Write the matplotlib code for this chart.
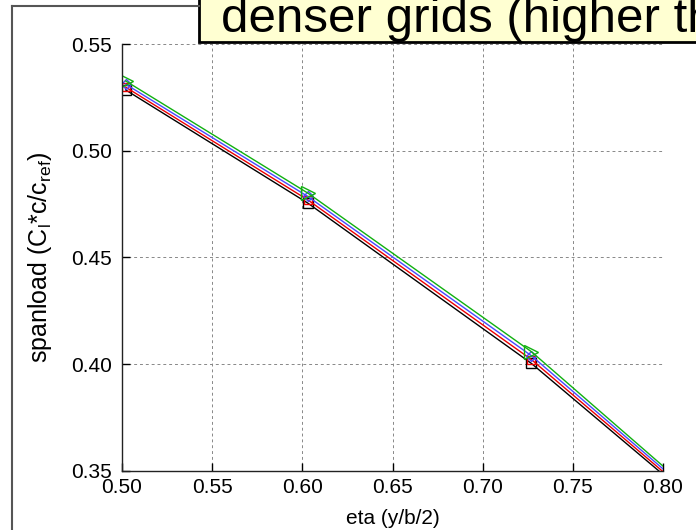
import matplotlib
matplotlib.use("Agg")
import matplotlib.pyplot as plt
from matplotlib.patches import Rectangle
from matplotlib.lines import Line2D

plt.rcParams['font.family'] = ['Liberation Sans', 'DejaVu Sans']
plt.rcParams['mathtext.fontset'] = 'custom'
plt.rcParams['mathtext.rm'] = 'Liberation Sans'
plt.rcParams['mathtext.it'] = 'Liberation Sans'

# ---- data ----
eta = [0.502, 0.603, 0.727, 0.80]
black_vals = [0.5285, 0.4755, 0.4004, 0.3484]
red_vals = [0.5298, 0.4770, 0.4022, 0.3497]
blue_vals = [0.5312, 0.4786, 0.4040, 0.3510]
green_vals = [0.5327, 0.4802, 0.4059, 0.3523]
xticks = [0.50, 0.55, 0.60, 0.65, 0.70, 0.75, 0.80]
yticks = [0.35, 0.40, 0.45, 0.50, 0.55]
xlabel = "eta (y/b/2)"
ylabel = r"spanload (C$_{\rm l}$*c/c$_{\rm ref}$)"
banner = "denser grids (higher th"

W, H = 696, 530
fig = plt.figure(figsize=(W / 100, H / 100), dpi=100)

# outer slide frame
fig.add_artist(Line2D([12 / W, 12 / W], [0, 1 - 6 / H], color='#555555', lw=1.5,
                      transform=fig.transFigure))
fig.add_artist(Line2D([12 / W, 199 / W], [1 - 6 / H, 1 - 6 / H], color='#555555', lw=1.5,
                      transform=fig.transFigure))

L, R, T, B = 122, 663, 44, 471
ax = fig.add_axes([L / W, 1 - B / H, (R - L) / W, (B - T) / H])

series = [
    (black_vals, 'black', 's', 7.2),
    (red_vals, '#ee0000', 's', 6.0),
    (blue_vals, '#4848ff', 'D', 5.0),
    (green_vals, '#10b010', '>', 9.5),
]
for vals, col, mk, ms in series:
    ax.plot(eta, vals, color=col, lw=1.0, marker=mk, ms=ms, mfc='none',
            mec=col, mew=1.0, clip_on=True, markevery=[0, 1, 2])

ax.set_xlim(0.50, 0.80)
ax.set_ylim(0.35, 0.55)
ax.set_xticks(xticks)
ax.set_yticks(yticks)
ax.set_xticklabels([f"{v:.2f}" for v in xticks])
ax.set_yticklabels([f"{v:.2f}" for v in yticks])
ax.tick_params(direction='in', length=6, width=1, labelsize=15, color='black')
ax.tick_params(axis='y', pad=7)
ax.tick_params(axis='x', pad=5)
for s in ['top', 'right']:
    ax.spines[s].set_visible(False)
for s in ['left', 'bottom']:
    ax.spines[s].set_color('#222222')
    ax.spines[s].set_linewidth(1.0)
ax.grid(True, color='#888888', linestyle=(0, (3, 3)), lw=0.7)
ax.set_axisbelow(True)

ax.set_xlabel(xlabel, fontsize=15, va='center')
ax.xaxis.set_label_coords(0.5, (B - 518) / (B - T))
ax.set_ylabel(ylabel, fontsize=18, va='center')
ax.yaxis.set_label_coords((40 - L) / (R - L), 0.5)

# banner box
fig.add_artist(Rectangle((199 / W, 1 - 42 / H), 1.0, 1.0, transform=fig.transFigure,
                         facecolor='#ffffd2', edgecolor='black', lw=2, clip_on=False))
fig.text(221 / W, 1 - 32 / H, banner, fontsize=35.5, va='baseline', ha='left', color='black')

fig.savefig("out.png", dpi=100)
